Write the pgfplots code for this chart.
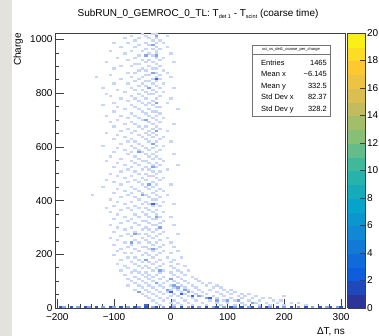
\documentclass[border=0pt]{standalone}
\usepackage{fontspec}
\setmainfont{Liberation Sans}
\usepackage{pgfplots}
\pgfplotsset{compat=1.18}
\definecolor{stripgray}{RGB}{227,227,220}
\definecolor{cellA}{RGB}{200,215,247}
\definecolor{cellB}{RGB}{132,164,236}
\definecolor{cellC}{RGB}{62,104,220}
\definecolor{cellD}{RGB}{44,86,204}
\pgfdeclareplotmark{cell}{\pgfpathrectangle{\pgfqpoint{-1.8pt}{-1.1pt}}{\pgfqpoint{3.6pt}{2.2pt}}\pgfusepathqfill}
\pgfplotsset{colormap={kbird}{rgb=(0.2082,0.1664,0.5293) rgb=(0.0592,0.3599,0.8684) rgb=(0.0780,0.5041,0.8385) rgb=(0.0232,0.6419,0.7914) rgb=(0.1802,0.7178,0.6425) rgb=(0.5301,0.7492,0.4662) rgb=(0.8186,0.7328,0.3499) rgb=(0.9956,0.7862,0.1968) rgb=(0.9764,0.9832,0.0539)}}
\newcommand{\tfont}{\fontsize{10}{12}\selectfont}
\newcommand{\sub}[1]{\raisebox{-2.5pt}{\fontsize{5.5}{6}\selectfont #1}}
\begin{document}
\begin{tikzpicture}
\useasboundingbox (0pt,0pt) rectangle (379pt,336pt);
\fill[stripgray] (0pt,0pt) rectangle (12pt,336pt);
\begin{axis}[
  at={(55pt,28pt)}, anchor=south west, scale only axis, width=290pt, height=275pt,
  xmin=-204, xmax=307, ymin=0, ymax=1024,
  axis line style={black!75, line width=0.5pt},
  tick pos=left, tick align=inside,
  xtick={-200,-100,0,100,200,300},
  xticklabels={−200,−100,0,100,200,300},
  ytick={0,200,400,600,800,1000},
  minor x tick num=4, minor y tick num=3,
  major tick length=8.5pt, minor tick length=4pt,
  every tick/.style={black!75, line width=0.5pt},
  /pgf/number format/assume math mode=true,
  /pgf/number format/1000 sep={},
  ticklabel style={font=\tfont},
  xticklabel style={yshift=-2pt},
  yticklabel style={xshift=1pt},
  xlabel={ΔT, ns},
  xlabel style={at={(axis description cs:1,0)}, anchor=north east, inner sep=0pt, yshift=-19pt, font=\tfont},
  ylabel={Charge},
  ylabel style={at={(axis description cs:-0.11,1)}, anchor=south east, inner sep=0pt, font=\tfont},
  point meta min=0, point meta max=20,
  colormap name=kbird,
  colorbar, colorbar sampled,
  colorbar style={samples=21, scale only axis, width=18pt, height=275pt,
    at={(parent axis.north east)}, anchor=north west, xshift=-6pt,
    ytick={0,2,4,6,8,10,12,14,16,18,20}, yticklabel pos=right, ytick pos=right,
    tick align=inside, major tick length=6pt,
    every tick/.style={black!75, line width=0.5pt},
    axis line style={black!75, line width=0.5pt},
    /pgf/number format/assume math mode=true,
    yticklabel style={font=\tfont, xshift=-2pt}},
]
% count 1 cells (pale)
\addplot[only marks, mark=cell, color=cellA] coordinates {
(-50,1020)(-31,1020)(-25,1020)
(-69,1012)(-44,1012)(-25,1012)(-6,1012)
(-81,1004)(-56,1004)(-38,1004)(-25,1004)
(-63,996)(-31,996)(-19,996)
(-100,988)(-75,988)(-44,988)(-25,988)(-13,988)
(-56,980)(-38,980)(-31,980)
(-88,972)(-63,972)(-25,972)(-6,972)
(-44,964)(-31,964)(-19,964)
(-106,956)(-69,956)(-50,956)(-25,956)
(-81,948)(-38,948)(-25,948)(0,948)
(-56,940)(-44,940)(-31,940)
(-94,932)(-63,932)(-25,932)(-13,932)
(-75,924)(-50,924)(-38,924)(-19,924)
(-113,916)(-44,916)(-31,916)(6,916)
(-63,908)(-56,908)(-25,908)
(-88,900)(-69,900)(-38,900)(-19,900)
(-100,892)(-50,892)(-31,892)(-25,892)
(-56,884)(-44,884)(-13,884)
(-75,876)(-63,876)(-31,876)(-25,876)(-6,876)
(-106,868)(-44,868)(-38,868)(-19,868)
(-131,860)(-69,860)(-50,860)(-25,860)(0,860)
(-88,852)(-56,852)(-31,852)(-19,852)
(-63,844)(-44,844)(-38,844)(-25,844)
(-100,836)(-75,836)(-50,836)(-31,836)(-13,836)
(-56,828)(-44,828)(-25,828)
(-119,820)(-69,820)(-38,820)(-19,820)(6,820)
(-94,812)(-63,812)(-50,812)(-31,812)
(-81,804)(-44,804)(-25,804)(-13,804)
(-113,796)(-56,796)(-38,796)(-31,796)
(-106,788)(-69,788)(-50,788)(-19,788)
(-88,780)(-63,780)(-44,780)(-25,780)(0,780)
(-75,772)(-56,772)(-31,772)
(-100,764)(-50,764)(-38,764)(-25,764)(-6,764)
(-119,756)(-69,756)(-44,756)(-31,756)
(-94,748)(-63,748)(-25,748)(-19,748)
(-81,740)(-56,740)(-38,740)(13,740)
(-100,732)(-50,732)(-31,732)(-25,732)
(-69,724)(-44,724)(-19,724)
(-113,716)(-88,716)(-63,716)(-38,716)(-25,716)
(-75,708)(-56,708)(-31,708)(-13,708)
(-94,700)(-50,700)(-44,700)(-25,700)
(-106,692)(-69,692)(-38,692)(-19,692)
(-81,684)(-63,684)(-31,684)(6,684)
(-100,676)(-56,676)(-44,676)(-25,676)
(-75,668)(-50,668)(-31,668)(-19,668)
(-88,660)(-63,660)(-38,660)(-25,660)(-6,660)
(-113,652)(-69,652)(-44,652)(-31,652)
(-94,644)(-56,644)(-38,644)(-25,644)
(-81,636)(-50,636)(-31,636)(-13,636)
(-100,628)(-69,628)(-44,628)(-19,628)
(-75,620)(-63,620)(-38,620)(-25,620)(0,620)
(-88,612)(-56,612)(-31,612)
(-119,604)(-69,604)(-50,604)(-25,604)(-13,604)
(-94,596)(-63,596)(-44,596)(-31,596)
(-81,588)(-56,588)(-38,588)(-19,588)
(-100,580)(-69,580)(-50,580)(-25,580)
(-75,572)(-44,572)(-31,572)(6,572)
(-106,564)(-63,564)(-38,564)(-25,564)
(-88,556)(-56,556)(-31,556)(-19,556)
(-113,548)(-69,548)(-50,548)(-44,548)(-13,548)
(-94,540)(-63,540)(-38,540)(-25,540)
(-81,532)(-56,532)(-31,532)(-19,532)(13,532)
(-100,524)(-69,524)(-44,524)(-25,524)
(-75,516)(-50,516)(-38,516)(-6,516)
(-88,508)(-63,508)(-31,508)(-19,508)
(-106,500)(-56,500)(-44,500)(-25,500)
(-94,492)(-69,492)(-38,492)(-31,492)
(-81,484)(-50,484)(-25,484)(-13,484)
(-113,476)(-63,476)(-44,476)(-19,476)
(-100,468)(-75,468)(-56,468)(-31,468)
(-88,460)(-50,460)(-38,460)(-25,460)(0,460)
(-119,452)(-69,452)(-44,452)(-31,452)
(-94,444)(-63,444)(-38,444)(-19,444)
(-81,436)(-56,436)(-25,436)(-13,436)
(-100,428)(-69,428)(-50,428)(-31,428)
(-138,420)(-75,420)(-44,420)(-25,420)(-6,420)
(-88,412)(-63,412)(-38,412)(-19,412)
(-106,404)(-56,404)(-31,404)(-25,404)
(-94,396)(-69,396)(-44,396)(-13,396)
(-81,388)(-50,388)(-38,388)(-25,388)(6,388)
(-100,380)(-63,380)(-31,380)(-19,380)
(-113,372)(-75,372)(-56,372)(-44,372)
(-88,364)(-69,364)(-38,364)(-25,364)
(-106,356)(-50,356)(-31,356)(-13,356)
(-94,348)(-63,348)(-44,348)(-25,348)
(-81,340)(-56,340)(-38,340)(-19,340)(0,340)
(-100,332)(-69,332)(-31,332)(-25,332)
(-75,324)(-50,324)(-44,324)(-13,324)
(-88,316)(-63,316)(-38,316)(-19,316)
(-106,308)(-56,308)(-31,308)(-25,308)(6,308)
(-94,300)(-69,300)(-44,300)(-19,300)
(-81,292)(-50,292)(-38,292)(-25,292)
(-100,284)(-63,284)(-31,284)(-13,284)
(-75,276)(-56,276)(-44,276)(-19,276)(13,276)
(-88,268)(-69,268)(-38,268)(-25,268)
(-106,260)(-50,260)(-31,260)(-6,260)
(-94,252)(-63,252)(-44,252)(-19,252)
(-81,244)(-56,244)(-38,244)(-25,244)(0,244)
(-100,236)(-69,236)(-31,236)(-13,236)
(-75,228)(-50,228)(-44,228)(-19,228)(6,228)
(-88,220)(-63,220)(-38,220)(-25,220)
(-94,212)(-56,212)(-31,212)(-13,212)(13,212)
(-81,204)(-69,204)(-44,204)(-19,204)(0,204)
(-100,196)(-50,196)(-38,196)(-25,196)
(-75,188)(-63,188)(-31,188)(-6,188)(19,188)
(-88,180)(-56,180)(-44,180)(-19,180)(6,180)
(-69,172)(-50,172)(-38,172)(-25,172)(0,172)
(-94,164)(-63,164)(-31,164)(-13,164)(13,164)
(-81,156)(-56,156)(-44,156)(-19,156)(0,156)(25,156)
(-75,148)(-50,148)(-38,148)(-25,148)(6,148)
(-88,140)(-63,140)(-31,140)(-13,140)(13,140)(31,140)
(-69,132)(-56,132)(-44,132)(-19,132)(0,132)(19,132)
(-81,124)(-50,124)(-38,124)(-25,124)(6,124)(25,124)
(-63,116)(-44,116)(-31,116)(-13,116)(13,116)(38,116)
(-75,108)(-56,108)(-38,108)(-19,108)(0,108)(19,108)(44,108)
(-69,100)(-50,100)(-31,100)(-6,100)(6,100)(25,100)(50,100)
(-63,92)(-44,92)(-25,92)(-13,92)(13,92)(31,92)(56,92)(69,92)
(-75,84)(-56,84)(-38,84)(-19,84)(0,84)(19,84)(38,84)(63,84)(81,84)
(-50,76)(-31,76)(-13,76)(6,76)(25,76)(44,76)(75,76)(88,76)
(-63,68)(-44,68)(-25,68)(0,68)(13,68)(31,68)(50,68)(69,68)(94,68)(106,68)
(-56,60)(-38,60)(-19,60)(-6,60)(19,60)(38,60)(56,60)(81,60)(100,60)(113,60)
(-50,52)(-31,52)(-13,52)(6,52)(25,52)(44,52)(63,52)(88,52)(106,52)(125,52)(138,52)
(-44,44)(-25,44)(0,44)(13,44)(31,44)(56,44)(75,44)(94,44)(119,44)(131,44)(150,44)(200,44)
(-38,36)(-19,36)(-6,36)(19,36)(38,36)(63,36)(81,36)(106,36)(125,36)(144,36)(163,36)(175,36)
(-31,28)(-13,28)(6,28)(25,28)(44,28)(69,28)(94,28)(113,28)(138,28)(156,28)(181,28)(194,28)
(-25,20)(0,20)(13,20)(31,20)(56,20)(81,20)(100,20)(125,20)(150,20)(169,20)(188,20)(213,20)(225,20)
(-44,12)(-19,12)(6,12)(19,12)(38,12)(63,12)(88,12)(113,12)(131,12)(156,12)(175,12)(200,12)(238,12)
};
% count 2-3 cells (medium)
\addplot[only marks, mark=cell, color=cellB] coordinates {
(-31,980)(-25,940)(-31,876)(-38,820)(-25,764)(-44,700)(-25,660)(-56,580)
(-31,524)(-38,460)(-50,420)(-25,340)(-63,276)(-31,220)(-44,180)(-19,140)
(0,108)(13,76)(31,60)(50,44)(63,36)(81,28)(100,28)(-25,92)(-56,60)(6,84)
(-6,68)(-25,1012)(-44,940)(-31,612)(-19,300)(-69,244)(25,68)(119,28)(144,20)
};
% count 4+ cells (dark)
\addplot[only marks, mark=cell, color=cellC] coordinates {
(-25,852)(-31,388)(19,52)(38,44)(-44,12)(0,60)(69,36)
};
% first charge bin
\addplot[only marks, mark=cell, color=cellD] coordinates {
(-194,4)(-175,4)(-150,4)(-131,4)(-106,4)(-88,4)(-63,4)(-44,4)(-25,4)(0,4)
(19,4)(38,4)(63,4)(81,4)(106,4)(125,4)(144,4)(169,4)(188,4)(213,4)(238,4)
(263,4)(281,4)(300,4)
};
\addplot[only marks, mark=cell, color=cellB] coordinates {
(-188,4)(-163,4)(-144,4)(-119,4)(-100,4)(-75,4)(-56,4)(-31,4)(-13,4)(6,4)
(31,4)(50,4)(75,4)(94,4)(113,4)(138,4)(156,4)(175,4)(200,4)(225,4)(250,4)
(275,4)(294,4)
};
\end{axis}
\node[font=\tfont, anchor=base] at (198pt,319.5pt) {SubRUN\_0\_GEMROC\_0\_TL: T\sub{det 1} - T\sub{scint} (coarse time)};
\draw[black!55, line width=0.5pt, fill=white] (252pt,220pt) rectangle (330pt,291pt);
\draw[black!55, line width=0.5pt] (252pt,282pt) -- (330pt,282pt);
\node[font=\fontsize{4}{4}\selectfont] at (291pt,286.5pt) {sci\_vs\_det1\_coarse\_per\_charge};
\begin{scope}[every node/.style={font=\fontsize{7.5}{8}\selectfont, inner sep=0pt}]
\node[anchor=base west] at (261pt,270.5pt) {Entries};
\node[anchor=base east] at (327pt,270.5pt) {1465};
\node[anchor=base west] at (261pt,259pt) {Mean x};
\node[anchor=base east] at (327pt,259pt) {−6.145};
\node[anchor=base west] at (261pt,247.5pt) {Mean y};
\node[anchor=base east] at (327pt,247.5pt) {332.5};
\node[anchor=base west] at (261pt,236pt) {Std Dev x};
\node[anchor=base east] at (327pt,236pt) {82.37};
\node[anchor=base west] at (261pt,224.5pt) {Std Dev y};
\node[anchor=base east] at (327pt,224.5pt) {328.2};
\end{scope}
\end{tikzpicture}
\end{document}
